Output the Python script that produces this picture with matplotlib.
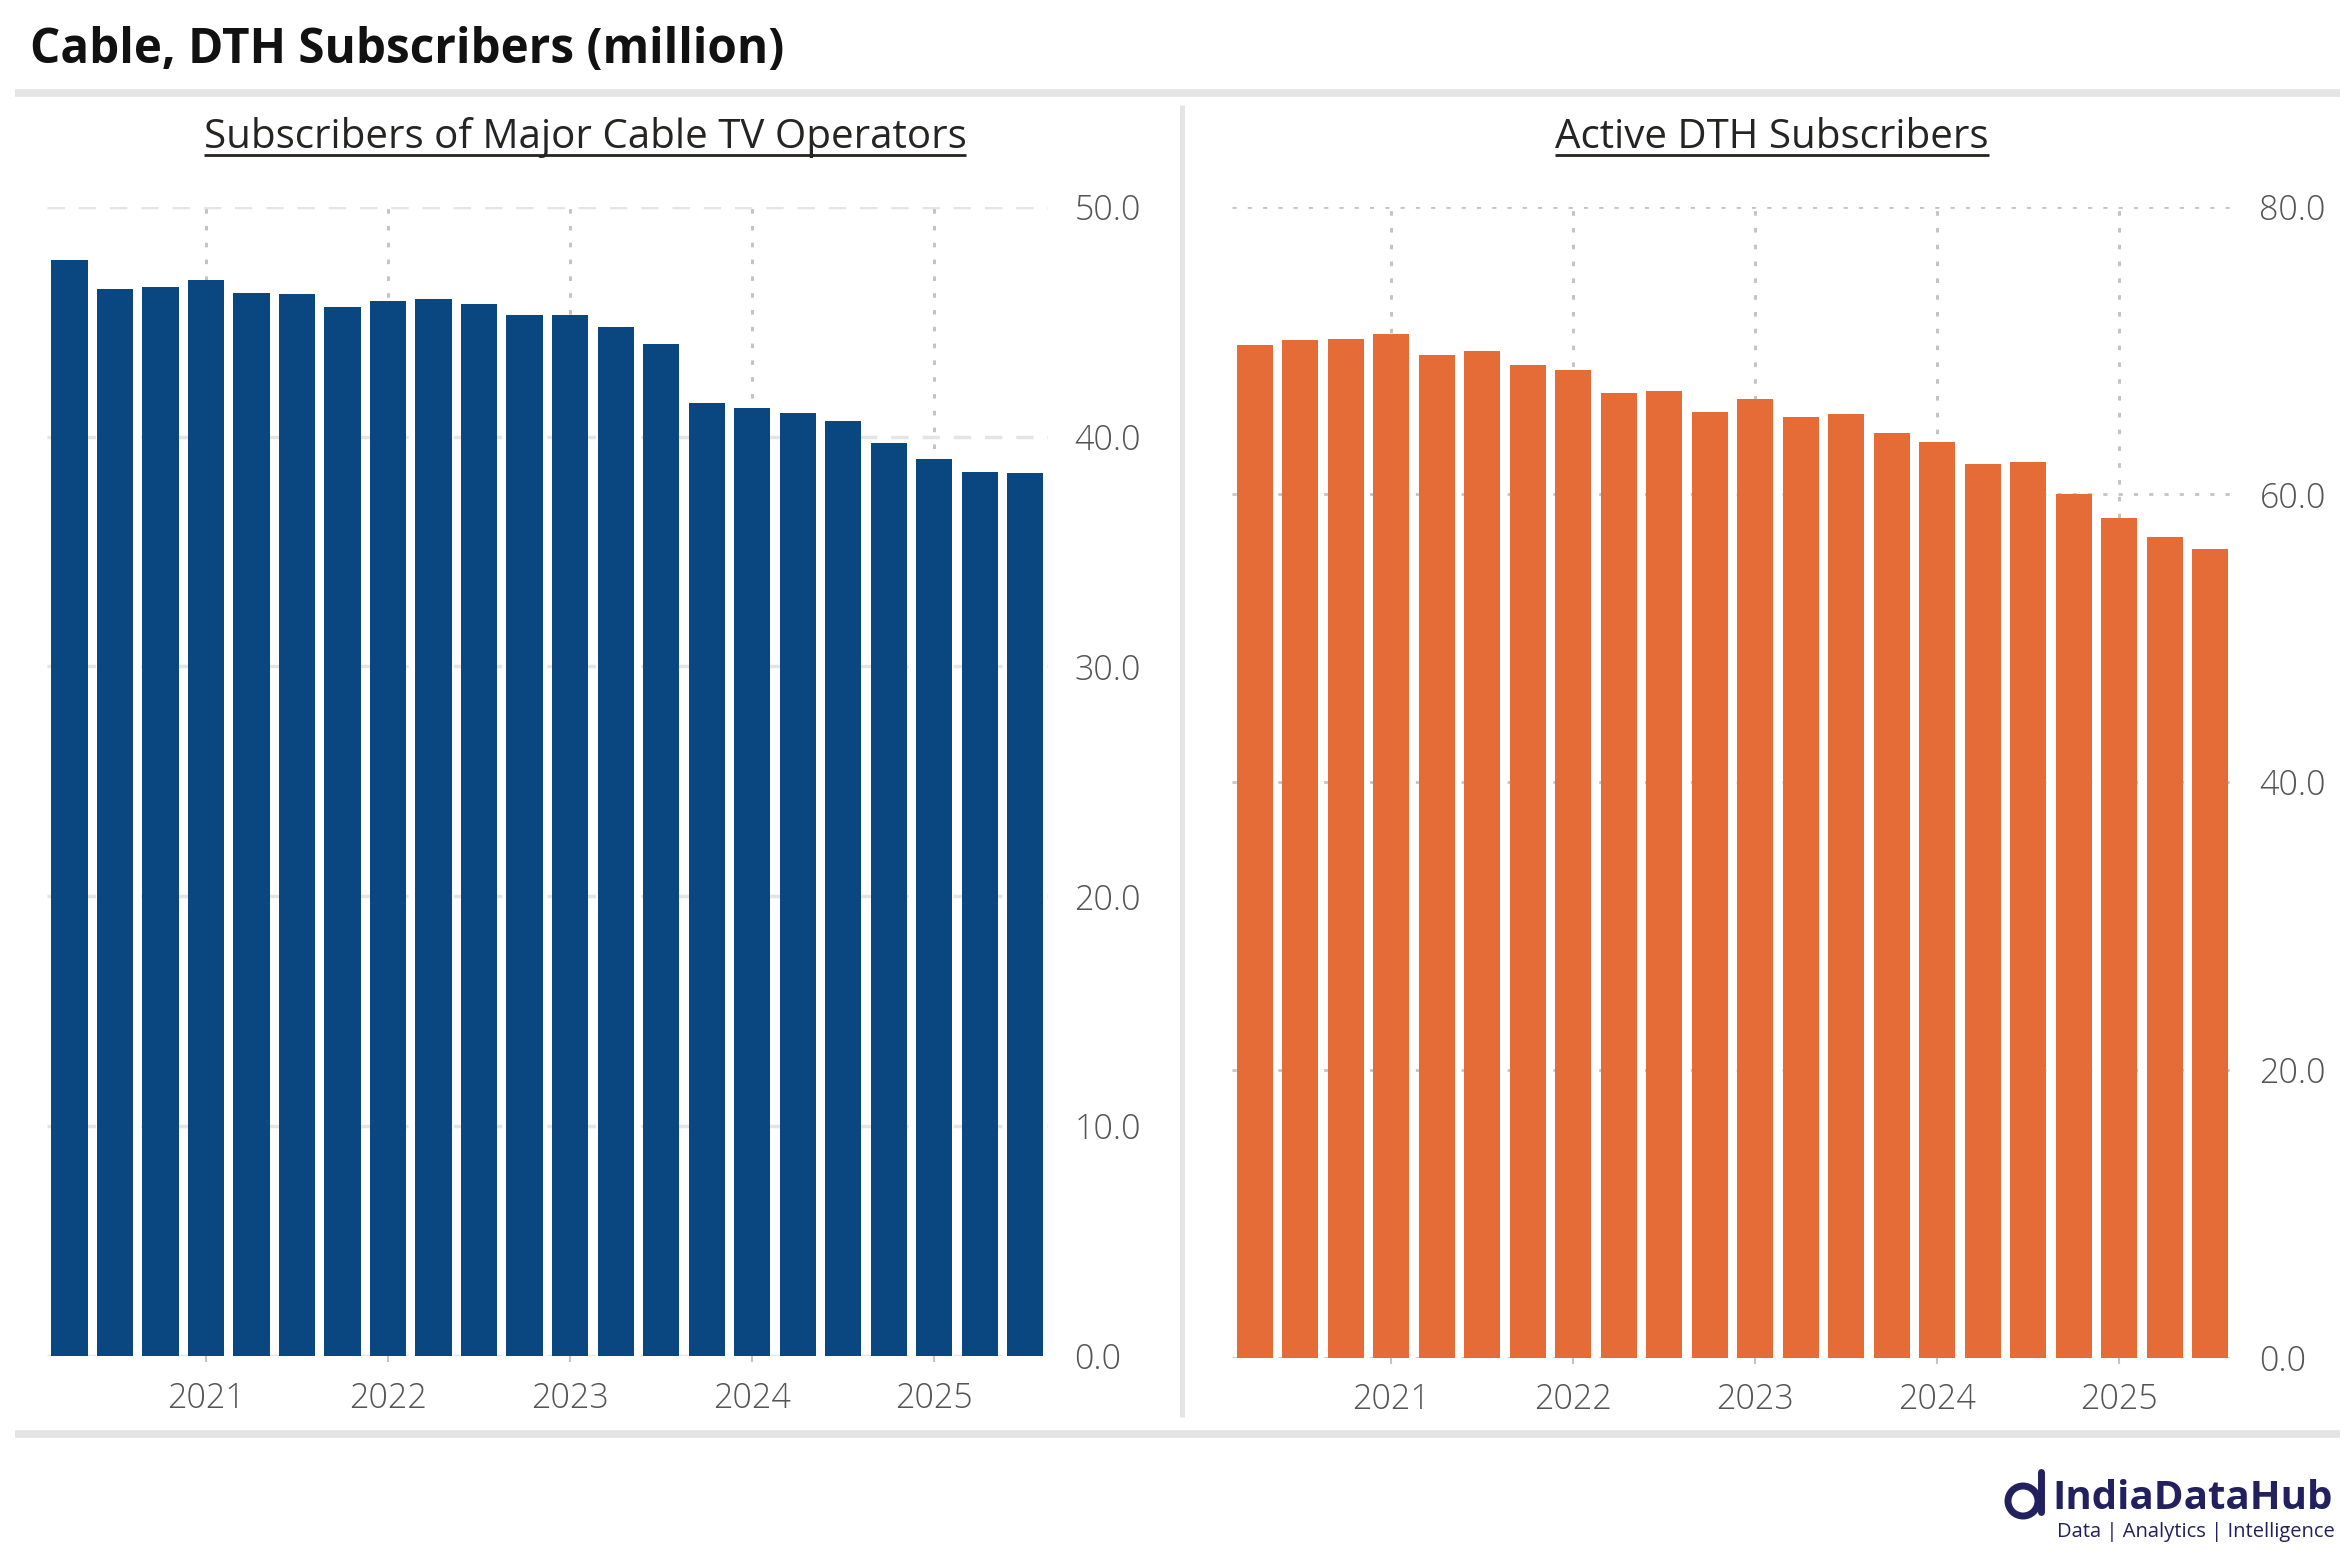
import numpy as np
import matplotlib
matplotlib.use("Agg")
import matplotlib.pyplot as plt
from matplotlib.patches import Ellipse

# figure size in pixels
W, H = 2347, 1555

plt.rcParams["font.family"] = ["Open Sans", "DejaVu Sans"]

# quarterly data (million)
quarters = ["Jun-20", "Sep-20", "Dec-20", "Mar-21", "Jun-21", "Sep-21", "Dec-21", "Mar-22",
            "Jun-22", "Sep-22", "Dec-22", "Mar-23", "Jun-23", "Sep-23", "Dec-23", "Mar-24",
            "Jun-24", "Sep-24", "Dec-24", "Mar-25", "Jun-25", "Sep-25"]
cable_subs = [47.68, 46.42, 46.51, 46.81, 46.25, 46.20, 45.64, 45.90, 45.99, 45.77, 45.29,
              45.29, 44.77, 44.03, 41.46, 41.25, 41.03, 40.68, 39.72, 39.03, 38.46, 38.42]
dth_subs = [70.38, 70.73, 70.80, 71.15, 69.69, 69.97, 68.99, 68.64, 67.04, 67.18, 65.72,
            66.63, 65.38, 65.59, 64.26, 63.64, 62.11, 62.25, 60.02, 58.35, 57.03, 56.20]

cable_yticks = [0, 10, 20, 30, 40, 50]
dth_yticks = [0, 20, 40, 60, 80]

BLUE = "#0A4780"
ORANGE = "#E66C37"
TICK_GREY = "#555555"
LINE_GREY = "#e4e4e4"
DOT_GREY = "#c4c4c4"

fig = plt.figure(figsize=(W / 100, H / 100), dpi=100)

# overlay in pixel coordinates for decorations
deco = fig.add_axes([0, 0, 1, 1], zorder=-1)
deco.set_xlim(0, W)
deco.set_ylim(H, 0)
deco.axis("off")

year_idx = [i for i, q in enumerate(quarters) if q.startswith("Mar")]
year_lbl = ["20" + quarters[i][-2:] for i in year_idx]
x = np.arange(len(quarters))


def style_axes(ax, yticks, hgrid_style, ylim_top):
    ax.set_xlim(-0.5, len(quarters) - 0.5)
    ax.set_ylim(0, ylim_top)
    ax.set_axisbelow(True)
    for s in ax.spines.values():
        s.set_visible(False)
    ax.yaxis.tick_right()
    ax.set_yticks(yticks)
    ax.set_yticklabels([f"{v:.1f}" for v in yticks])
    ax.set_xticks(year_idx)
    ax.set_xticklabels(year_lbl)
    ax.tick_params(axis="y", length=0, pad=19, labelsize=24.5, labelcolor=TICK_GREY)
    ax.tick_params(axis="x", length=4, width=1.5, color=DOT_GREY, pad=14,
                   labelsize=24.5, labelcolor=TICK_GREY)
    for lbl in ax.get_xticklabels() + ax.get_yticklabels():
        lbl.set_fontweight("light")
    for yv in yticks:
        if hgrid_style == "dashed":
            ax.axhline(yv, color=LINE_GREY, lw=2.5, ls=(0, (5, 4)), zorder=0)
        else:
            ax.axhline(yv, color=DOT_GREY, lw=2, ls=(0, (1.5, 4)), zorder=0)
    for xi in year_idx:
        ax.axvline(xi, color=DOT_GREY, lw=2.2, ls=(0, (1.5, 4)), zorder=0)


ax1 = fig.add_axes([46.9 / W, 1 - 1356 / H, (1048 - 46.9) / W, (1356 - 206.7) / H])
ax1.bar(x, cable_subs, width=0.8, color=BLUE, zorder=2)
style_axes(ax1, cable_yticks, "dashed", 50)

ax2 = fig.add_axes([1232 / W, 1 - 1357.5 / H, (2233 - 1232) / W, (1357.5 - 206.7) / H])
ax2.bar(x, dth_subs, width=0.8, color=ORANGE, zorder=2)
style_axes(ax2, dth_yticks, "dotted", 80)

# frame lines
deco.plot([15, 2340], [93, 93], color=LINE_GREY, lw=5.5, solid_capstyle="butt")
deco.plot([15, 2340], [1434, 1434], color=LINE_GREY, lw=5.5, solid_capstyle="butt")
deco.plot([1182, 1182], [105, 1417], color=LINE_GREY, lw=3.5, solid_capstyle="butt")

# titles
deco.text(30, 63, "Cable, DTH Subscribers (million)", fontsize=34.3, fontweight="bold",
          color="#111111", ha="left", va="baseline")
subs = [
    deco.text(585, 148, "Subscribers of Major Cable TV Operators", fontsize=29,
              color="#252423", ha="center", va="baseline"),
    deco.text(1772, 148, "Active DTH Subscribers", fontsize=29,
              color="#252423", ha="center", va="baseline"),
]

# logo
NAVY = "#22205f"
deco.text(2052, 1509, "IndiaDataHub", fontsize=29, fontweight="bold", color=NAVY,
          ha="left", va="baseline")
deco.text(2057, 1537, "Data | Analytics | Intelligence", fontsize=14.5, color=NAVY,
          ha="left", va="baseline")
deco.add_patch(Ellipse((2023, 1501), 30, 30, fill=False, ec=NAVY, lw=5))
deco.plot([2041, 2041], [1472, 1512], color=NAVY, lw=5, solid_capstyle="round")

# underline the panel titles
fig.canvas.draw()
for t in subs:
    bb = t.get_window_extent()
    deco.plot([bb.x0, bb.x1], [155, 155], color="#252423", lw=2, solid_capstyle="butt")

fig.savefig("out.png", dpi=100)
